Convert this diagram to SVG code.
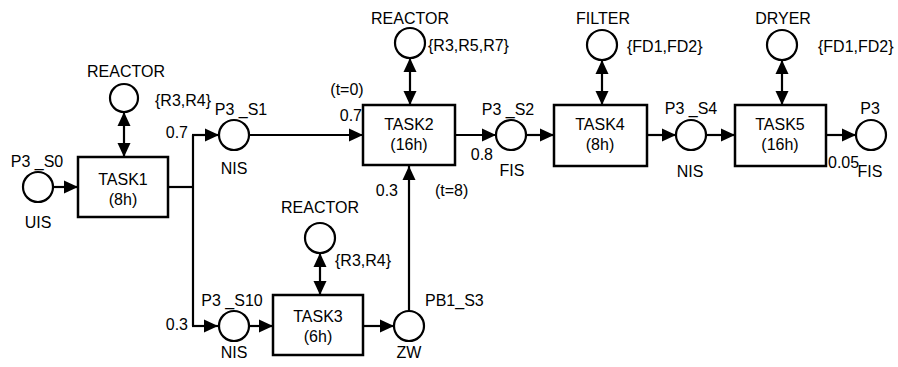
<svg xmlns="http://www.w3.org/2000/svg" width="898" height="367" viewBox="0 0 898 367">
<style>
text{font-family:"Liberation Sans",Arial,sans-serif;font-size:16px;fill:#000}
.m{text-anchor:middle}
.e{text-anchor:end}
.box{fill:#fff;stroke:#000;stroke-width:2.5}
.pl{fill:#fff;stroke:#000;stroke-width:2.2}
.c{fill:none;stroke:#000;stroke-width:2.2}
</style>
<defs>
<marker id="ah" markerUnits="userSpaceOnUse" markerWidth="14" markerHeight="14" refX="14" refY="7" orient="auto-start-reverse" viewBox="0 0 14 14">
<path d="M0,0.5 L14,7 L0,13.5 z" fill="#000"/>
</marker>
</defs>
<rect width="898" height="367" fill="#fff"/>
<g id="connectors">
<line class="c" x1="53" y1="187" x2="78" y2="187" marker-end="url(#ah)"/>
<line class="c" x1="124" y1="112" x2="124" y2="157" marker-start="url(#ah)" marker-end="url(#ah)"/>
<polyline class="c" points="168,187 193,187"/>
<line class="c" x1="193" y1="135" x2="193" y2="326"/>
<line class="c" x1="192" y1="135" x2="219" y2="135" marker-end="url(#ah)"/>
<line class="c" x1="192" y1="326" x2="218" y2="326" marker-end="url(#ah)"/>
<line class="c" x1="250" y1="135" x2="363" y2="135" marker-end="url(#ah)"/>
<line class="c" x1="410" y1="58" x2="410" y2="105" marker-start="url(#ah)" marker-end="url(#ah)"/>
<line class="c" x1="455" y1="135" x2="496" y2="135" marker-end="url(#ah)"/>
<line class="c" x1="526" y1="135" x2="554" y2="135" marker-end="url(#ah)"/>
<line class="c" x1="602" y1="60" x2="602" y2="105" marker-start="url(#ah)" marker-end="url(#ah)"/>
<line class="c" x1="647" y1="135" x2="676" y2="135" marker-end="url(#ah)"/>
<line class="c" x1="706" y1="135" x2="735" y2="135" marker-end="url(#ah)"/>
<line class="c" x1="782" y1="60" x2="782" y2="105" marker-start="url(#ah)" marker-end="url(#ah)"/>
<line class="c" x1="826" y1="135" x2="856" y2="135" marker-end="url(#ah)"/>
<line class="c" x1="249" y1="326" x2="273" y2="326" marker-end="url(#ah)"/>
<line class="c" x1="320" y1="253" x2="320" y2="295" marker-start="url(#ah)" marker-end="url(#ah)"/>
<line class="c" x1="363" y1="326" x2="394" y2="326" marker-end="url(#ah)"/>
<line class="c" x1="409" y1="311" x2="409" y2="166" marker-end="url(#ah)"/>
</g>
<g id="P3_S0"><circle class="pl" cx="38" cy="187" r="15"/><text class="m" x="37" y="167">P3 _S0</text><text class="m" x="38" y="228">UIS</text></g>
<g id="TASK1"><rect class="box" x="78" y="157" width="90" height="60"/><text class="m" x="123" y="185">TASK1</text><text class="m" x="123" y="205">(8h)</text></g>
<g id="REACTOR1"><circle class="pl" cx="124" cy="98" r="14"/><text class="m" x="126" y="77">REACTOR</text><text x="155" y="106">{R3,R4}</text></g>
<g id="P3_S1"><circle class="pl" cx="234" cy="135" r="15"/><text class="m" x="241" y="115">P3 _S1</text><text class="m" x="234" y="174">NIS</text><text class="e" x="188" y="138">0.7</text></g>
<g id="TASK2"><rect class="box" x="363" y="105" width="92" height="60"/><text class="m" x="409" y="130">TASK2</text><text class="m" x="409" y="150">(16h)</text><text class="m" x="347" y="95">(t=0)</text><text class="e" x="362" y="121">0.7</text><text class="e" x="398" y="196">0.3</text><text x="435" y="196">(t=8)</text></g>
<g id="REACTOR2"><circle class="pl" cx="410" cy="43" r="15"/><text class="m" x="410" y="24">REACTOR</text><text x="428" y="51">{R3,R5,R7}</text></g>
<g id="P3_S2"><circle class="pl" cx="511" cy="135" r="15"/><text class="m" x="508" y="115">P3 _S2</text><text class="m" x="512" y="176">FIS</text><text class="e" x="493" y="160">0.8</text></g>
<g id="TASK4"><rect class="box" x="554" y="105" width="93" height="61"/><text class="m" x="600" y="130">TASK4</text><text class="m" x="600" y="150">(8h)</text></g>
<g id="FILTER"><circle class="pl" cx="602" cy="45" r="15"/><text class="m" x="603" y="24">FILTER</text><text x="627" y="52">{FD1,FD2}</text></g>
<g id="P3_S4"><circle class="pl" cx="691" cy="135" r="15"/><text class="m" x="691" y="114">P3 _S4</text><text class="m" x="690" y="177">NIS</text></g>
<g id="TASK5"><rect class="box" x="735" y="105" width="91" height="61"/><text class="m" x="780" y="130">TASK5</text><text class="m" x="780" y="150">(16h)</text></g>
<g id="DRYER"><circle class="pl" cx="782" cy="45" r="15"/><text class="m" x="783" y="24">DRYER</text><text x="818" y="52">{FD1,FD2}</text></g>
<g id="P3"><circle class="pl" cx="871" cy="135" r="15"/><text class="m" x="870" y="114">P3</text><text class="m" x="870" y="177">FIS</text><text x="828" y="168">0.05</text></g>
<g id="P3_S10"><circle class="pl" cx="234" cy="326" r="15"/><text class="m" x="232" y="306">P3 _S10</text><text class="m" x="234" y="358">NIS</text><text class="e" x="188" y="330">0.3</text></g>
<g id="TASK3"><rect class="box" x="273" y="295" width="90" height="60"/><text class="m" x="318" y="322">TASK3</text><text class="m" x="318" y="342">(6h)</text></g>
<g id="REACTOR3"><circle class="pl" cx="320" cy="238" r="15"/><text class="m" x="320" y="213">REACTOR</text><text x="335" y="266">{R3,R4}</text></g>
<g id="PB1_S3"><circle class="pl" cx="409" cy="326" r="15"/><text x="425" y="306">PB1_S3</text><text class="m" x="409" y="358">ZW</text></g>
</svg>
